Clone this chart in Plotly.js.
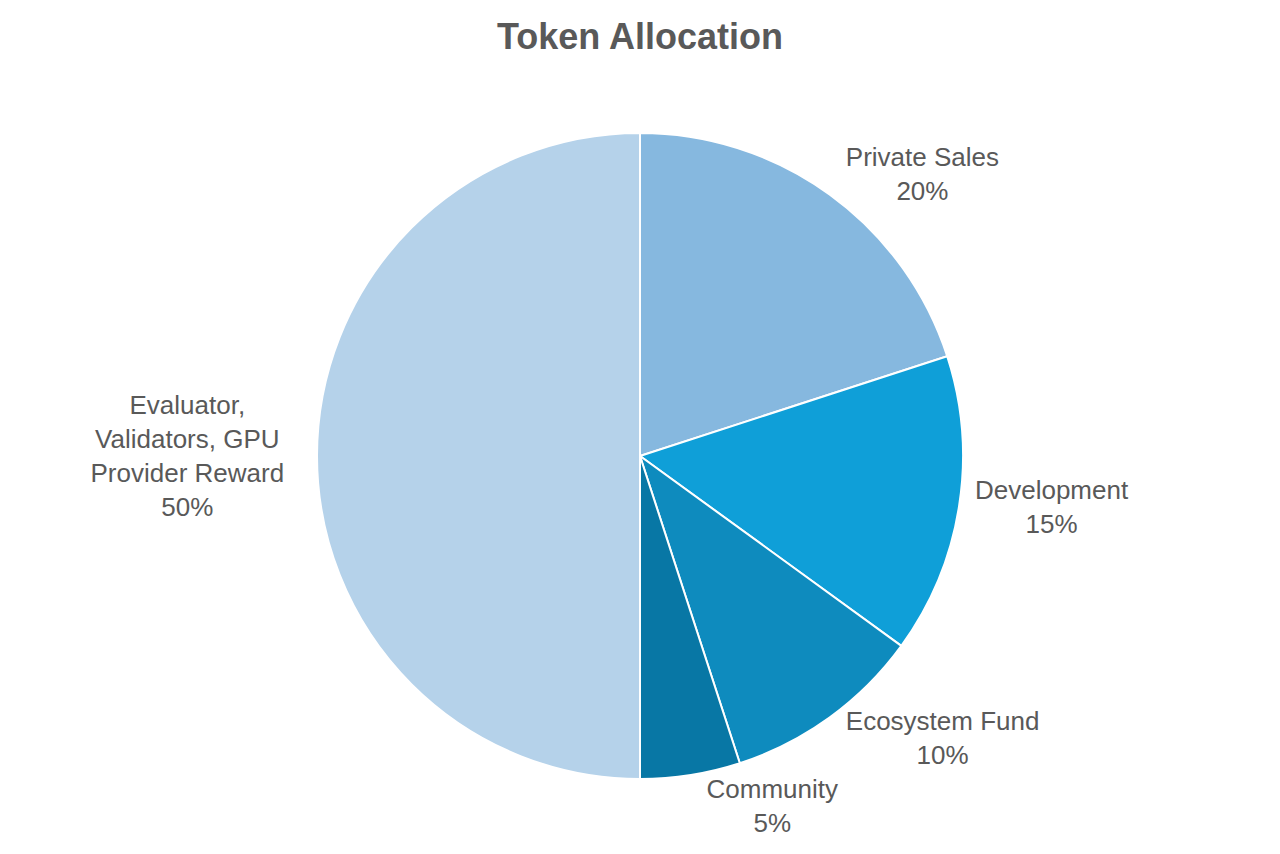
<!DOCTYPE html>
<html>
<head>
<meta charset="utf-8">
<script src="https://cdn.plot.ly/plotly-3.0.1.min.js"></script>
<style>html,body{margin:0;padding:0;background:#fff;}#chart{width:1280px;height:854px;}</style>
</head>
<body>
<div id="chart"></div>
<script>
const categories = ["Private Sales", "Development", "Ecosystem Fund", "Community", "Evaluator,<br>Validators, GPU<br>Provider Reward"];
const values = [20, 15, 10, 5, 50];
const colors = ["#86b8df", "#0f9fd8", "#0e8bbe", "#0877a5", "#b5d2ea"];

const trace = {
  type: "pie",
  labels: categories,
  values: values,
  sort: false,
  direction: "clockwise",
  rotation: 0,
  marker: { colors: colors, line: { color: "#ffffff", width: 2 } },
  textinfo: "label+percent",
  textposition: "outside",
  texttemplate: "%{label}<br>%{percent:.0%}",
  outsidetextfont: { family: "Liberation Sans, Arial, sans-serif", size: 26, color: "#595959" },
  automargin: false,
  hoverinfo: "label+percent",
  showlegend: false
};

const layout = {
  width: 1280,
  height: 854,
  title: {
    text: "<b>Token Allocation</b>",
    font: { family: "Liberation Sans, Arial, sans-serif", size: 36, color: "#595959" },
    x: 0.5, xanchor: "center", y: 0.957, yanchor: "middle"
  },
  margin: { l: 0, r: 0, t: 133, b: 75 },
  paper_bgcolor: "#ffffff",
  showlegend: false
};

Plotly.newPlot("chart", [trace], layout, { displayModeBar: false, staticPlot: true });
</script>
</body>
</html>
